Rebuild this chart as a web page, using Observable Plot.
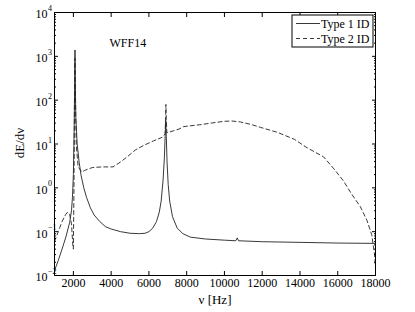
<!DOCTYPE html>
<html><head><meta charset="utf-8">
<script src="https://cdn.jsdelivr.net/npm/d3@7"></script>
<script src="https://cdn.jsdelivr.net/npm/@observablehq/plot@0.6"></script>
<style>
body{margin:0;background:#fff}
svg{font-family:"Liberation Serif","Times New Roman",serif}
</style>
</head><body><div id="chart"></div>
<script>
const seriesNames = ["Type 1 ID", "Type 2 ID"];
const plotTitle = "WFF14";
const xLabel = "ν [Hz]";
const yLabel = "dE/dν";
const xTicks = [2000, 4000, 6000, 8000, 10000, 12000, 14000, 16000, 18000];
const yTicks = [1e-2, 1e-1, 1e0, 1e1, 1e2, 1e3, 1e4];
const yExponents = ["−2", "−1", "0", "1", "2", "3", "4"];

const type1Freq = [1000,1200,1400,1600,1800,1900,1950,2000,2040,2070,2085,2100,2130,2200,2300,2400,2550,2700,2900,3100,3400,3700,4000,4500,5000,5500,5800,6000,6200,6400,6550,6650,6750,6820,6860,6890,6920,6960,7020,7100,7250,7500,7800,8200,9000,10000,10600,10680,10750,12000,14000,16000,18000];
const type1Val  = [0.013,0.022,0.04,0.075,0.16,0.3,0.6,2,20,300,1400,300,40,10,4,2,1.0,0.6,0.35,0.24,0.17,0.13,0.115,0.1,0.092,0.09,0.092,0.1,0.12,0.17,0.28,0.5,1.5,5,15,35,15,4,1.2,0.5,0.22,0.12,0.09,0.075,0.068,0.064,0.062,0.072,0.062,0.059,0.057,0.055,0.054];

const type2Freq = [1000,1200,1400,1600,1700,1800,1900,1970,2000,2030,2060,2085,2110,2150,2250,2450,2600,3000,3500,4100,4500,4850,5300,5750,6250,6700,6860,6880,6900,6920,6950,7300,7600,7850,8700,9300,10000,10400,10850,11400,11900,12800,13700,14400,15250,15800,16300,16700,17200,17550,17800,17950,18000];
const type2Val  = [0.06,0.1,0.17,0.25,0.28,0.25,0.15,0.05,0.04,1,100,900,100,10,3,2.3,2.5,2.9,3.0,3.0,3.9,5.1,7.4,9.4,11.8,14.2,17,35,80,35,18,20,22,25,27.5,30,33,33.5,31.8,28,24,18.5,12.8,8.1,5.1,2.7,1.45,0.76,0.37,0.18,0.085,0.03,0.015];

const rows = [
  ...type1Freq.map((f, i) => ({f, v: type1Val[i], s: seriesNames[0]})),
  ...type2Freq.map((f, i) => ({f, v: type2Val[i], s: seriesNames[1]}))
];
const minorY = [];
for (let e = -2; e < 4; e++) for (let m = 2; m <= 9; m++) minorY.push(m * Math.pow(10, e));

const chart = Plot.plot({
  width: 415, height: 312,
  marginLeft: 54, marginRight: 40, marginTop: 12, marginBottom: 37,
  style: {fontFamily: '"Liberation Serif", serif', fontSize: "12px", color: "#000", background: "#fff"},
  x: {domain: [1000, 18000], label: null},
  y: {type: "log", domain: [1e-2, 1e4], label: null},
  marks: [
    Plot.line(rows.filter(d => d.s === seriesNames[0]), {x: "f", y: "v", stroke: "#222", strokeWidth: 0.9}),
    Plot.line(rows.filter(d => d.s === seriesNames[1]), {x: "f", y: "v", stroke: "#222", strokeWidth: 0.9, strokeDasharray: "4,3"}),
    Plot.frame({stroke: "#000", strokeWidth: 1}),
    Plot.axisX(xTicks, {anchor: "bottom", tickSize: -4, tickPadding: 7, tickFormat: d => String(d), fontSize: 12}),
    Plot.axisX(xTicks, {anchor: "top", tickSize: -4, text: null}),
    Plot.axisY(yTicks, {anchor: "left", tickSize: -4, text: null}),
    Plot.axisY(yTicks, {anchor: "right", tickSize: -4, text: null}),
    Plot.axisY(minorY, {anchor: "left", tickSize: -2, text: null}),
    Plot.axisY(minorY, {anchor: "right", tickSize: -2, text: null}),
    Plot.text(yTicks, {y: d => d, frameAnchor: "left", text: () => "10", textAnchor: "end", dx: -7, dy: 2, fontSize: 12}),
    Plot.text(yTicks, {y: d => d, frameAnchor: "left", text: (d, i) => yExponents[i], textAnchor: "start", dx: -6.5, dy: -4, fontSize: 8}),
    Plot.text([plotTitle], {frameAnchor: "top-left", text: d => d, dx: 55, dy: 26, fontSize: 12, textAnchor: "start"})
  ]
});
const svg = d3.select(chart);
svg.append("text").attr("x", 215).attr("y", 304).attr("text-anchor", "middle")
  .attr("font-size", 13).text(xLabel);
svg.append("text").attr("transform", "translate(24,143) rotate(-90)").attr("text-anchor", "middle")
  .attr("font-size", 13).text(yLabel);
// legend
const lg = svg.append("g").attr("transform", "translate(292,15)");
lg.append("rect").attr("width", 81).attr("height", 32).attr("fill", "#fff").attr("stroke", "#000").attr("stroke-width", 1);
seriesNames.forEach((name, i) => {
  const y = 8.5 + i * 15;
  lg.append("line").attr("x1", 4).attr("x2", 28).attr("y1", y).attr("y2", y)
    .attr("stroke", "#222").attr("stroke-width", 0.9).attr("stroke-dasharray", i ? "4,3" : null);
  lg.append("text").attr("x", 29).attr("y", y + 4).attr("text-anchor", "start").attr("font-size", 12).text(name);
});
document.getElementById("chart").appendChild(chart);
</script>
</body></html>
